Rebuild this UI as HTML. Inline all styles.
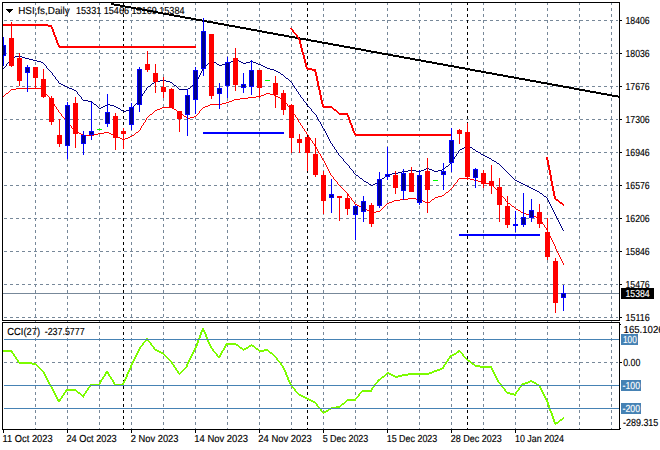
<!DOCTYPE html>
<html><head><meta charset="utf-8"><title>HSI,fs,Daily</title>
<style>html,body{margin:0;padding:0;background:#fff;}body{width:660px;height:450px;overflow:hidden;font-family:"Liberation Sans",sans-serif;}svg{display:block;}text{font-family:"Liberation Sans",sans-serif;font-size:10.2px;fill:#000;stroke:#000;stroke-width:0.15px;text-rendering:geometricPrecision;}</style>
</head><body>
<svg width="660" height="450" viewBox="0 0 660 450">
<rect width="660" height="450" fill="#fff"/>
<defs><clipPath id="cm"><rect x="3" y="3" width="616" height="317"/></clipPath><clipPath id="ci"><rect x="3" y="323" width="616" height="106"/></clipPath></defs>
<g shape-rendering="crispEdges">
<g stroke="#778899" stroke-width="1" stroke-dasharray="3 3" fill="none"><line x1="4" y1="20.5" x2="618" y2="20.5"/><line x1="4" y1="53.5" x2="618" y2="53.5"/><line x1="4" y1="86.5" x2="618" y2="86.5"/><line x1="4" y1="119.5" x2="618" y2="119.5"/><line x1="4" y1="152.5" x2="618" y2="152.5"/><line x1="4" y1="185.5" x2="618" y2="185.5"/><line x1="4" y1="218.5" x2="618" y2="218.5"/><line x1="4" y1="251.5" x2="618" y2="251.5"/><line x1="4" y1="284.5" x2="618" y2="284.5"/><line x1="4" y1="317.5" x2="618" y2="317.5"/><line x1="4" y1="362.5" x2="618" y2="362.5"/></g>
<g stroke="#778899" stroke-width="1" stroke-dasharray="3 3" fill="none" ><line x1="35.5" y1="2" x2="35.5" y2="429"/><line x1="67.5" y1="2" x2="67.5" y2="429"/><line x1="99.5" y1="2" x2="99.5" y2="429"/><line x1="131.5" y1="2" x2="131.5" y2="429"/><line x1="163.5" y1="2" x2="163.5" y2="429"/><line x1="195.5" y1="2" x2="195.5" y2="429"/><line x1="227.5" y1="2" x2="227.5" y2="429"/><line x1="259.5" y1="2" x2="259.5" y2="429"/><line x1="291.5" y1="2" x2="291.5" y2="429"/><line x1="323.5" y1="2" x2="323.5" y2="429"/><line x1="355.5" y1="2" x2="355.5" y2="429"/><line x1="387.5" y1="2" x2="387.5" y2="429"/><line x1="419.5" y1="2" x2="419.5" y2="429"/><line x1="451.5" y1="2" x2="451.5" y2="429"/><line x1="483.5" y1="2" x2="483.5" y2="429"/><line x1="515.5" y1="2" x2="515.5" y2="429"/><line x1="547.5" y1="2" x2="547.5" y2="429"/><line x1="579.5" y1="2" x2="579.5" y2="429"/><line x1="611.5" y1="2" x2="611.5" y2="429"/></g>
<g stroke="#000" stroke-width="1" stroke-dasharray="3 3" fill="none"><line x1="123.5" y1="2" x2="123.5" y2="429"/><line x1="307.5" y1="2" x2="307.5" y2="429"/><line x1="467.5" y1="2" x2="467.5" y2="429"/></g>
<rect x="3" y="293" width="616" height="1" fill="#778899"/>
</g>
<g clip-path="url(#cm)" shape-rendering="crispEdges">
<path d="M111 3h3v1h-3zM111 4h9v1h-9zM114 5h11v1h-11zM120 6h11v1h-11zM125 7h11v1h-11zM131 8h11v1h-11zM136 9h11v1h-11zM142 10h11v1h-11zM147 11h11v1h-11zM153 12h10v1h-10zM158 13h11v1h-11zM163 14h11v1h-11zM169 15h11v1h-11zM174 16h11v1h-11zM180 17h11v1h-11zM185 18h11v1h-11zM191 19h11v1h-11zM196 20h11v1h-11zM202 21h11v1h-11zM207 22h11v1h-11zM213 23h11v1h-11zM218 24h11v1h-11zM224 25h11v1h-11zM229 26h11v1h-11zM235 27h11v1h-11zM240 28h11v1h-11zM246 29h11v1h-11zM251 30h11v1h-11zM257 31h10v1h-10zM262 32h11v1h-11zM267 33h11v1h-11zM273 34h11v1h-11zM278 35h11v1h-11zM284 36h11v1h-11zM289 37h11v1h-11zM295 38h11v1h-11zM300 39h11v1h-11zM306 40h11v1h-11zM311 41h11v1h-11zM317 42h11v1h-11zM322 43h11v1h-11zM328 44h11v1h-11zM333 45h11v1h-11zM339 46h11v1h-11zM344 47h11v1h-11zM350 48h11v1h-11zM355 49h11v1h-11zM361 50h10v1h-10zM366 51h11v1h-11zM371 52h11v1h-11zM377 53h11v1h-11zM382 54h11v1h-11zM388 55h11v1h-11zM393 56h11v1h-11zM399 57h11v1h-11zM404 58h11v1h-11zM410 59h11v1h-11zM415 60h11v1h-11zM421 61h11v1h-11zM426 62h11v1h-11zM432 63h11v1h-11zM437 64h11v1h-11zM443 65h11v1h-11zM448 66h11v1h-11zM454 67h11v1h-11zM459 68h11v1h-11zM465 69h10v1h-10zM470 70h11v1h-11zM475 71h11v1h-11zM481 72h11v1h-11zM486 73h11v1h-11zM492 74h11v1h-11zM497 75h11v1h-11zM503 76h11v1h-11zM508 77h11v1h-11zM514 78h11v1h-11zM519 79h11v1h-11zM525 80h11v1h-11zM530 81h11v1h-11zM536 82h11v1h-11zM541 83h11v1h-11zM547 84h11v1h-11zM552 85h11v1h-11zM558 86h11v1h-11zM563 87h11v1h-11zM569 88h10v1h-10zM574 89h11v1h-11zM579 90h11v1h-11zM585 91h11v1h-11zM590 92h11v1h-11zM596 93h11v1h-11zM601 94h11v1h-11zM607 95h11v1h-11zM612 96h7v1h-7zM618 97h1v1h-1z" fill="#000"/>
<path d="M3 24h45v1h-45zM3 25h49v1h-49zM48 26h4v1h-4zM51 27h2v1h-2zM51 28h2v1h-2zM52 29h2v1h-2zM52 30h2v1h-2zM52 31h2v1h-2zM53 32h2v1h-2zM53 33h2v1h-2zM53 34h2v1h-2zM54 35h2v1h-2zM54 36h2v1h-2zM55 37h2v1h-2zM55 38h2v1h-2zM55 39h2v1h-2zM56 40h2v1h-2zM56 41h2v1h-2zM56 42h2v1h-2zM57 43h2v1h-2zM57 44h2v1h-2zM58 45h2v1h-2zM58 46h138v1h-138zM59 47h137v1h-137z" fill="#FF0000"/>
<path d="M290 28h2v1h-2zM291 29h2v1h-2zM292 30h2v1h-2zM292 31h2v1h-2zM293 32h2v1h-2zM294 33h2v1h-2zM295 34h2v1h-2zM296 35h2v1h-2zM296 36h2v1h-2zM297 37h2v1h-2zM298 38h2v1h-2zM298 39h2v1h-2zM299 40h2v1h-2zM299 41h2v1h-2zM299 42h2v1h-2zM299 43h2v1h-2zM300 44h2v1h-2zM300 45h2v1h-2zM300 46h2v1h-2zM300 47h2v1h-2zM301 48h2v1h-2zM301 49h2v1h-2zM301 50h2v1h-2zM301 51h2v1h-2zM302 52h2v1h-2zM302 53h2v1h-2zM302 54h2v1h-2zM303 55h2v1h-2zM303 56h2v1h-2zM303 57h2v1h-2zM303 58h2v1h-2zM304 59h2v1h-2zM304 60h2v1h-2zM304 61h2v1h-2zM304 62h2v1h-2zM305 63h2v1h-2zM305 64h2v1h-2zM305 65h2v1h-2zM305 66h2v1h-2zM306 67h2v1h-2zM306 68h6v1h-6zM307 69h9v1h-9zM312 70h4v1h-4zM314 71h2v1h-2zM315 72h2v1h-2zM315 73h2v1h-2zM315 74h2v1h-2zM315 75h2v1h-2zM316 76h2v1h-2zM316 77h2v1h-2zM316 78h2v1h-2zM316 79h2v1h-2zM316 80h2v1h-2zM317 81h2v1h-2zM317 82h2v1h-2zM317 83h2v1h-2zM317 84h2v1h-2zM317 85h2v1h-2zM318 86h2v1h-2zM318 87h2v1h-2zM318 88h2v1h-2zM318 89h2v1h-2zM319 90h2v1h-2zM319 91h2v1h-2zM319 92h2v1h-2zM319 93h2v1h-2zM319 94h2v1h-2zM320 95h2v1h-2zM320 96h2v1h-2zM320 97h2v1h-2zM320 98h2v1h-2zM320 99h2v1h-2zM321 100h2v1h-2zM321 101h2v1h-2zM321 102h2v1h-2zM321 103h2v1h-2zM322 104h2v1h-2zM322 105h2v1h-2zM322 106h10v1h-10zM323 107h10v1h-10zM332 108h2v1h-2zM333 109h3v1h-3zM334 110h3v1h-3zM336 111h2v1h-2zM337 112h2v1h-2zM338 113h10v1h-10zM339 114h9v1h-9zM347 115h2v1h-2zM347 116h2v1h-2zM348 117h2v1h-2zM348 118h2v1h-2zM348 119h2v1h-2zM349 120h2v1h-2zM349 121h2v1h-2zM349 122h2v1h-2zM350 123h2v1h-2zM350 124h2v1h-2zM351 125h2v1h-2zM351 126h2v1h-2zM351 127h2v1h-2zM352 128h2v1h-2zM352 129h2v1h-2zM352 130h2v1h-2zM353 131h2v1h-2zM353 132h2v1h-2zM354 133h2v1h-2zM354 134h98v1h-98zM355 135h97v1h-97z" fill="#FF0000"/>
<path d="M546 157h2v1h-2zM546 158h2v1h-2zM546 159h2v1h-2zM547 160h2v1h-2zM547 161h2v1h-2zM547 162h2v1h-2zM547 163h2v1h-2zM547 164h2v1h-2zM548 165h2v1h-2zM548 166h2v1h-2zM548 167h2v1h-2zM548 168h2v1h-2zM548 169h2v1h-2zM549 170h2v1h-2zM549 171h2v1h-2zM549 172h2v1h-2zM549 173h2v1h-2zM549 174h2v1h-2zM550 175h2v1h-2zM550 176h2v1h-2zM550 177h2v1h-2zM550 178h2v1h-2zM550 179h2v1h-2zM550 180h2v1h-2zM551 181h2v1h-2zM551 182h2v1h-2zM551 183h2v1h-2zM551 184h2v1h-2zM551 185h2v1h-2zM552 186h2v1h-2zM552 187h2v1h-2zM552 188h2v1h-2zM552 189h2v1h-2zM552 190h2v1h-2zM553 191h2v1h-2zM553 192h2v1h-2zM553 193h2v1h-2zM553 194h2v1h-2zM553 195h2v1h-2zM554 196h2v1h-2zM554 197h2v1h-2zM554 198h2v1h-2zM555 199h3v1h-3zM556 200h3v1h-3zM558 201h2v1h-2zM559 202h3v1h-3zM560 203h3v1h-3zM562 204h2v1h-2zM563 205h1v1h-1z" fill="#FF0000"/>
<rect x="203" y="132" width="81" height="2" fill="#0000FF"/>
<rect x="459" y="234" width="81" height="2" fill="#0000FF"/>
<path d="M16 88h25v1h-25zM11 89h5v1h-5zM41 89h2v1h-2zM10 90h1v1h-1zM43 90h1v1h-1zM9 91h1v1h-1zM44 91h1v1h-1zM8 92h1v1h-1zM45 92h1v1h-1zM6 93h2v1h-2zM45 93h1v1h-1zM266 93h4v1h-4zM5 94h1v1h-1zM46 94h1v1h-1zM264 94h2v1h-2zM270 94h4v1h-4zM4 95h1v1h-1zM47 95h1v1h-1zM261 95h3v1h-3zM274 95h2v1h-2zM3 96h1v1h-1zM48 96h1v1h-1zM256 96h5v1h-5zM276 96h2v1h-2zM49 97h1v1h-1zM248 97h8v1h-8zM278 97h2v1h-2zM49 98h1v1h-1zM240 98h8v1h-8zM280 98h1v1h-1zM50 99h1v1h-1zM234 99h6v1h-6zM281 99h2v1h-2zM51 100h1v1h-1zM232 100h2v1h-2zM283 100h1v1h-1zM52 101h1v1h-1zM229 101h3v1h-3zM284 101h1v1h-1zM52 102h1v1h-1zM226 102h3v1h-3zM285 102h1v1h-1zM53 103h1v1h-1zM222 103h4v1h-4zM286 103h1v1h-1zM54 104h1v1h-1zM210 104h12v1h-12zM287 104h1v1h-1zM54 105h1v1h-1zM208 105h2v1h-2zM287 105h1v1h-1zM55 106h1v1h-1zM205 106h3v1h-3zM288 106h1v1h-1zM56 107h1v1h-1zM162 107h10v1h-10zM203 107h2v1h-2zM289 107h1v1h-1zM56 108h1v1h-1zM160 108h2v1h-2zM172 108h2v1h-2zM202 108h1v1h-1zM290 108h1v1h-1zM57 109h1v1h-1zM157 109h3v1h-3zM174 109h2v1h-2zM201 109h1v1h-1zM291 109h1v1h-1zM58 110h1v1h-1zM155 110h2v1h-2zM176 110h1v1h-1zM200 110h1v1h-1zM292 110h1v1h-1zM58 111h1v1h-1zM154 111h1v1h-1zM177 111h2v1h-2zM199 111h1v1h-1zM292 111h1v1h-1zM59 112h1v1h-1zM153 112h1v1h-1zM179 112h1v1h-1zM199 112h1v1h-1zM293 112h1v1h-1zM60 113h1v1h-1zM152 113h1v1h-1zM180 113h2v1h-2zM198 113h1v1h-1zM293 113h1v1h-1zM61 114h1v1h-1zM150 114h2v1h-2zM182 114h1v1h-1zM197 114h1v1h-1zM294 114h1v1h-1zM61 115h1v1h-1zM149 115h1v1h-1zM183 115h1v1h-1zM196 115h1v1h-1zM295 115h1v1h-1zM62 116h1v1h-1zM148 116h1v1h-1zM184 116h2v1h-2zM194 116h2v1h-2zM295 116h1v1h-1zM63 117h1v1h-1zM147 117h1v1h-1zM186 117h1v1h-1zM190 117h4v1h-4zM296 117h1v1h-1zM64 118h1v1h-1zM146 118h1v1h-1zM187 118h3v1h-3zM297 118h1v1h-1zM65 119h1v1h-1zM146 119h1v1h-1zM297 119h1v1h-1zM65 120h1v1h-1zM145 120h1v1h-1zM298 120h1v1h-1zM66 121h1v1h-1zM145 121h1v1h-1zM298 121h1v1h-1zM67 122h1v1h-1zM144 122h1v1h-1zM299 122h1v1h-1zM68 123h1v1h-1zM143 123h1v1h-1zM300 123h1v1h-1zM69 124h1v1h-1zM143 124h1v1h-1zM300 124h1v1h-1zM70 125h1v1h-1zM142 125h1v1h-1zM301 125h1v1h-1zM71 126h1v1h-1zM141 126h1v1h-1zM302 126h1v1h-1zM71 127h1v1h-1zM141 127h1v1h-1zM302 127h1v1h-1zM72 128h1v1h-1zM140 128h1v1h-1zM303 128h1v1h-1zM73 129h1v1h-1zM140 129h1v1h-1zM304 129h1v1h-1zM74 130h1v1h-1zM139 130h1v1h-1zM304 130h1v1h-1zM75 131h2v1h-2zM138 131h1v1h-1zM305 131h1v1h-1zM77 132h2v1h-2zM104 132h5v1h-5zM136 132h2v1h-2zM306 132h1v1h-1zM79 133h2v1h-2zM98 133h6v1h-6zM109 133h2v1h-2zM135 133h1v1h-1zM306 133h1v1h-1zM81 134h2v1h-2zM94 134h4v1h-4zM111 134h2v1h-2zM134 134h1v1h-1zM307 134h1v1h-1zM83 135h11v1h-11zM113 135h2v1h-2zM132 135h2v1h-2zM308 135h1v1h-1zM115 136h2v1h-2zM130 136h2v1h-2zM308 136h1v1h-1zM117 137h3v1h-3zM128 137h2v1h-2zM309 137h1v1h-1zM120 138h2v1h-2zM125 138h3v1h-3zM310 138h1v1h-1zM122 139h3v1h-3zM310 139h1v1h-1zM311 140h1v1h-1zM312 141h1v1h-1zM312 142h1v1h-1zM313 143h1v1h-1zM314 144h1v1h-1zM314 145h1v1h-1zM315 146h1v1h-1zM316 147h1v1h-1zM316 148h1v1h-1zM317 149h1v1h-1zM317 150h1v1h-1zM318 151h1v1h-1zM318 152h1v1h-1zM319 153h1v1h-1zM320 154h1v1h-1zM320 155h1v1h-1zM321 156h1v1h-1zM321 157h1v1h-1zM322 158h1v1h-1zM322 159h1v1h-1zM323 160h1v1h-1zM324 161h1v1h-1zM324 162h1v1h-1zM325 163h1v1h-1zM325 164h1v1h-1zM326 165h1v1h-1zM326 166h1v1h-1zM327 167h1v1h-1zM327 168h1v1h-1zM328 169h1v1h-1zM328 170h1v1h-1zM329 171h1v1h-1zM329 172h1v1h-1zM330 173h1v1h-1zM330 174h1v1h-1zM331 175h1v1h-1zM332 176h1v1h-1zM333 177h1v1h-1zM333 178h1v1h-1zM459 178h11v1h-11zM334 179h1v1h-1zM458 179h1v1h-1zM470 179h4v1h-4zM335 180h1v1h-1zM457 180h1v1h-1zM474 180h4v1h-4zM336 181h1v1h-1zM457 181h1v1h-1zM478 181h4v1h-4zM337 182h1v1h-1zM456 182h1v1h-1zM482 182h4v1h-4zM337 183h1v1h-1zM455 183h1v1h-1zM486 183h4v1h-4zM338 184h1v1h-1zM454 184h1v1h-1zM490 184h2v1h-2zM339 185h1v1h-1zM453 185h1v1h-1zM492 185h1v1h-1zM340 186h1v1h-1zM453 186h1v1h-1zM493 186h1v1h-1zM341 187h1v1h-1zM452 187h1v1h-1zM494 187h1v1h-1zM342 188h1v1h-1zM451 188h1v1h-1zM495 188h1v1h-1zM343 189h1v1h-1zM450 189h1v1h-1zM496 189h1v1h-1zM344 190h1v1h-1zM449 190h1v1h-1zM497 190h1v1h-1zM345 191h1v1h-1zM448 191h1v1h-1zM498 191h1v1h-1zM346 192h1v1h-1zM446 192h2v1h-2zM499 192h1v1h-1zM347 193h1v1h-1zM445 193h1v1h-1zM500 193h1v1h-1zM348 194h1v1h-1zM444 194h1v1h-1zM501 194h1v1h-1zM348 195h1v1h-1zM442 195h2v1h-2zM501 195h1v1h-1zM349 196h1v1h-1zM438 196h4v1h-4zM502 196h1v1h-1zM350 197h1v1h-1zM435 197h3v1h-3zM503 197h1v1h-1zM351 198h1v1h-1zM408 198h8v1h-8zM434 198h1v1h-1zM504 198h1v1h-1zM351 199h1v1h-1zM400 199h8v1h-8zM416 199h5v1h-5zM432 199h2v1h-2zM505 199h1v1h-1zM352 200h1v1h-1zM394 200h6v1h-6zM421 200h2v1h-2zM431 200h1v1h-1zM505 200h1v1h-1zM353 201h1v1h-1zM392 201h2v1h-2zM423 201h2v1h-2zM430 201h1v1h-1zM506 201h1v1h-1zM354 202h1v1h-1zM389 202h3v1h-3zM425 202h2v1h-2zM428 202h2v1h-2zM507 202h1v1h-1zM354 203h1v1h-1zM387 203h2v1h-2zM427 203h1v1h-1zM508 203h2v1h-2zM355 204h2v1h-2zM386 204h1v1h-1zM510 204h1v1h-1zM357 205h2v1h-2zM385 205h1v1h-1zM511 205h1v1h-1zM359 206h2v1h-2zM384 206h1v1h-1zM512 206h2v1h-2zM361 207h2v1h-2zM383 207h1v1h-1zM514 207h1v1h-1zM363 208h2v1h-2zM382 208h1v1h-1zM515 208h1v1h-1zM365 209h2v1h-2zM381 209h1v1h-1zM516 209h2v1h-2zM367 210h2v1h-2zM380 210h1v1h-1zM518 210h2v1h-2zM369 211h2v1h-2zM376 211h4v1h-4zM520 211h1v1h-1zM371 212h5v1h-5zM521 212h2v1h-2zM523 213h3v1h-3zM526 214h4v1h-4zM530 215h3v1h-3zM533 216h3v1h-3zM536 217h2v1h-2zM538 218h2v1h-2zM540 219h1v1h-1zM540 220h1v1h-1zM541 221h1v1h-1zM542 222h1v1h-1zM542 223h1v1h-1zM543 224h1v1h-1zM544 225h1v1h-1zM544 226h1v1h-1zM545 227h1v1h-1zM546 228h1v1h-1zM546 229h1v1h-1zM547 230h1v1h-1zM547 231h1v1h-1zM548 232h1v1h-1zM548 233h1v1h-1zM549 234h1v1h-1zM549 235h1v1h-1zM550 236h1v1h-1zM550 237h1v1h-1zM551 238h1v1h-1zM551 239h1v1h-1zM552 240h1v1h-1zM552 241h1v1h-1zM553 242h1v1h-1zM553 243h1v1h-1zM554 244h1v1h-1zM554 245h1v1h-1zM555 246h1v1h-1zM555 247h1v1h-1zM555 248h1v1h-1zM556 249h1v1h-1zM556 250h1v1h-1zM557 251h1v1h-1zM557 252h1v1h-1zM558 253h1v1h-1zM558 254h1v1h-1zM559 255h1v1h-1zM559 256h1v1h-1zM560 257h1v1h-1zM560 258h1v1h-1zM561 259h1v1h-1zM561 260h1v1h-1zM562 261h1v1h-1zM562 262h1v1h-1zM563 263h1v1h-1zM563 264h1v1h-1z" fill="#FF0000"/>
<path d="M15 56h7v1h-7zM14 57h1v1h-1zM22 57h3v1h-3zM13 58h1v1h-1zM25 58h4v1h-4zM11 59h2v1h-2zM29 59h4v1h-4zM235 59h2v1h-2zM10 60h1v1h-1zM33 60h4v1h-4zM211 60h1v1h-1zM233 60h2v1h-2zM237 60h2v1h-2zM9 61h1v1h-1zM37 61h4v1h-4zM210 61h1v1h-1zM212 61h2v1h-2zM231 61h2v1h-2zM239 61h2v1h-2zM250 61h3v1h-3zM8 62h1v1h-1zM41 62h2v1h-2zM209 62h1v1h-1zM214 62h2v1h-2zM229 62h2v1h-2zM241 62h2v1h-2zM246 62h4v1h-4zM253 62h3v1h-3zM7 63h1v1h-1zM43 63h1v1h-1zM208 63h1v1h-1zM216 63h1v1h-1zM226 63h3v1h-3zM243 63h3v1h-3zM256 63h2v1h-2zM6 64h1v1h-1zM44 64h1v1h-1zM207 64h1v1h-1zM217 64h2v1h-2zM222 64h4v1h-4zM258 64h3v1h-3zM6 65h1v1h-1zM45 65h1v1h-1zM206 65h1v1h-1zM219 65h3v1h-3zM261 65h2v1h-2zM5 66h1v1h-1zM46 66h1v1h-1zM205 66h1v1h-1zM263 66h2v1h-2zM4 67h1v1h-1zM46 67h1v1h-1zM204 67h1v1h-1zM265 67h2v1h-2zM3 68h1v1h-1zM47 68h1v1h-1zM203 68h1v1h-1zM267 68h3v1h-3zM48 69h1v1h-1zM202 69h1v1h-1zM270 69h4v1h-4zM49 70h1v1h-1zM202 70h1v1h-1zM274 70h2v1h-2zM50 71h1v1h-1zM201 71h1v1h-1zM276 71h2v1h-2zM51 72h1v1h-1zM201 72h1v1h-1zM278 72h2v1h-2zM52 73h1v1h-1zM200 73h1v1h-1zM280 73h1v1h-1zM52 74h1v1h-1zM200 74h1v1h-1zM281 74h2v1h-2zM53 75h1v1h-1zM199 75h1v1h-1zM283 75h1v1h-1zM54 76h1v1h-1zM199 76h1v1h-1zM284 76h1v1h-1zM55 77h1v1h-1zM198 77h1v1h-1zM285 77h1v1h-1zM55 78h1v1h-1zM198 78h1v1h-1zM286 78h2v1h-2zM56 79h1v1h-1zM197 79h1v1h-1zM288 79h1v1h-1zM57 80h1v1h-1zM160 80h6v1h-6zM197 80h1v1h-1zM289 80h1v1h-1zM58 81h1v1h-1zM155 81h5v1h-5zM166 81h4v1h-4zM196 81h1v1h-1zM290 81h1v1h-1zM58 82h1v1h-1zM154 82h1v1h-1zM170 82h2v1h-2zM196 82h1v1h-1zM291 82h1v1h-1zM59 83h2v1h-2zM152 83h2v1h-2zM172 83h1v1h-1zM195 83h1v1h-1zM292 83h1v1h-1zM61 84h2v1h-2zM151 84h1v1h-1zM173 84h1v1h-1zM194 84h1v1h-1zM292 84h1v1h-1zM63 85h2v1h-2zM150 85h1v1h-1zM174 85h2v1h-2zM192 85h2v1h-2zM293 85h1v1h-1zM65 86h2v1h-2zM148 86h2v1h-2zM176 86h1v1h-1zM191 86h1v1h-1zM294 86h1v1h-1zM67 87h2v1h-2zM147 87h1v1h-1zM177 87h1v1h-1zM190 87h1v1h-1zM294 87h1v1h-1zM69 88h3v1h-3zM146 88h1v1h-1zM178 88h1v1h-1zM188 88h2v1h-2zM295 88h1v1h-1zM72 89h2v1h-2zM146 89h1v1h-1zM179 89h9v1h-9zM296 89h1v1h-1zM74 90h2v1h-2zM145 90h1v1h-1zM296 90h1v1h-1zM76 91h1v1h-1zM144 91h1v1h-1zM297 91h1v1h-1zM77 92h1v1h-1zM144 92h1v1h-1zM298 92h1v1h-1zM77 93h1v1h-1zM143 93h1v1h-1zM298 93h1v1h-1zM78 94h1v1h-1zM142 94h1v1h-1zM299 94h1v1h-1zM79 95h1v1h-1zM142 95h1v1h-1zM300 95h1v1h-1zM80 96h1v1h-1zM141 96h1v1h-1zM300 96h1v1h-1zM81 97h1v1h-1zM140 97h1v1h-1zM301 97h1v1h-1zM81 98h1v1h-1zM140 98h1v1h-1zM302 98h1v1h-1zM82 99h1v1h-1zM139 99h1v1h-1zM303 99h1v1h-1zM83 100h5v1h-5zM138 100h1v1h-1zM303 100h1v1h-1zM88 101h4v1h-4zM137 101h1v1h-1zM304 101h1v1h-1zM92 102h1v1h-1zM137 102h1v1h-1zM305 102h1v1h-1zM93 103h1v1h-1zM136 103h1v1h-1zM306 103h1v1h-1zM94 104h2v1h-2zM107 104h3v1h-3zM135 104h1v1h-1zM306 104h1v1h-1zM96 105h1v1h-1zM105 105h2v1h-2zM110 105h4v1h-4zM134 105h1v1h-1zM307 105h1v1h-1zM97 106h1v1h-1zM103 106h2v1h-2zM114 106h2v1h-2zM133 106h1v1h-1zM308 106h1v1h-1zM98 107h1v1h-1zM101 107h2v1h-2zM116 107h2v1h-2zM133 107h1v1h-1zM309 107h1v1h-1zM99 108h2v1h-2zM118 108h2v1h-2zM132 108h1v1h-1zM310 108h1v1h-1zM120 109h1v1h-1zM130 109h2v1h-2zM311 109h1v1h-1zM121 110h2v1h-2zM126 110h4v1h-4zM311 110h1v1h-1zM123 111h3v1h-3zM312 111h1v1h-1zM313 112h1v1h-1zM314 113h1v1h-1zM315 114h1v1h-1zM316 115h1v1h-1zM316 116h1v1h-1zM317 117h1v1h-1zM317 118h1v1h-1zM318 119h1v1h-1zM318 120h1v1h-1zM319 121h1v1h-1zM320 122h1v1h-1zM320 123h1v1h-1zM321 124h1v1h-1zM321 125h1v1h-1zM322 126h1v1h-1zM322 127h1v1h-1zM323 128h1v1h-1zM324 129h1v1h-1zM324 130h1v1h-1zM325 131h1v1h-1zM325 132h1v1h-1zM326 133h1v1h-1zM326 134h1v1h-1zM327 135h1v1h-1zM327 136h1v1h-1zM328 137h1v1h-1zM328 138h1v1h-1zM329 139h1v1h-1zM329 140h1v1h-1zM330 141h1v1h-1zM330 142h1v1h-1zM331 143h1v1h-1zM332 144h1v1h-1zM332 145h1v1h-1zM467 145h1v1h-1zM333 146h1v1h-1zM465 146h2v1h-2zM468 146h2v1h-2zM334 147h1v1h-1zM464 147h1v1h-1zM470 147h2v1h-2zM334 148h1v1h-1zM462 148h2v1h-2zM472 148h1v1h-1zM335 149h1v1h-1zM460 149h2v1h-2zM473 149h2v1h-2zM336 150h1v1h-1zM459 150h1v1h-1zM475 150h1v1h-1zM336 151h1v1h-1zM458 151h1v1h-1zM476 151h2v1h-2zM337 152h1v1h-1zM458 152h1v1h-1zM478 152h2v1h-2zM338 153h1v1h-1zM457 153h1v1h-1zM480 153h1v1h-1zM338 154h1v1h-1zM456 154h1v1h-1zM481 154h2v1h-2zM339 155h1v1h-1zM456 155h1v1h-1zM483 155h2v1h-2zM340 156h1v1h-1zM455 156h1v1h-1zM485 156h2v1h-2zM341 157h1v1h-1zM454 157h1v1h-1zM487 157h2v1h-2zM342 158h1v1h-1zM454 158h1v1h-1zM489 158h2v1h-2zM343 159h1v1h-1zM453 159h1v1h-1zM491 159h1v1h-1zM343 160h1v1h-1zM452 160h1v1h-1zM492 160h2v1h-2zM344 161h1v1h-1zM452 161h1v1h-1zM494 161h2v1h-2zM345 162h1v1h-1zM451 162h1v1h-1zM496 162h1v1h-1zM346 163h1v1h-1zM450 163h1v1h-1zM497 163h2v1h-2zM347 164h1v1h-1zM449 164h1v1h-1zM499 164h1v1h-1zM348 165h1v1h-1zM448 165h1v1h-1zM500 165h1v1h-1zM349 166h1v1h-1zM446 166h2v1h-2zM501 166h1v1h-1zM349 167h1v1h-1zM445 167h1v1h-1zM502 167h1v1h-1zM350 168h1v1h-1zM426 168h3v1h-3zM444 168h1v1h-1zM503 168h1v1h-1zM351 169h1v1h-1zM424 169h2v1h-2zM429 169h3v1h-3zM442 169h2v1h-2zM504 169h1v1h-1zM352 170h1v1h-1zM408 170h8v1h-8zM421 170h3v1h-3zM432 170h2v1h-2zM438 170h4v1h-4zM505 170h1v1h-1zM353 171h1v1h-1zM402 171h6v1h-6zM416 171h5v1h-5zM434 171h4v1h-4zM506 171h1v1h-1zM353 172h1v1h-1zM398 172h4v1h-4zM507 172h1v1h-1zM354 173h1v1h-1zM392 173h6v1h-6zM508 173h1v1h-1zM355 174h1v1h-1zM387 174h5v1h-5zM509 174h1v1h-1zM356 175h2v1h-2zM386 175h1v1h-1zM510 175h1v1h-1zM358 176h1v1h-1zM385 176h1v1h-1zM511 176h1v1h-1zM359 177h1v1h-1zM384 177h1v1h-1zM512 177h1v1h-1zM360 178h2v1h-2zM382 178h2v1h-2zM513 178h1v1h-1zM362 179h1v1h-1zM381 179h1v1h-1zM514 179h1v1h-1zM363 180h1v1h-1zM380 180h1v1h-1zM515 180h2v1h-2zM364 181h2v1h-2zM379 181h1v1h-1zM517 181h2v1h-2zM366 182h2v1h-2zM377 182h2v1h-2zM519 182h2v1h-2zM368 183h1v1h-1zM375 183h2v1h-2zM521 183h2v1h-2zM369 184h2v1h-2zM373 184h2v1h-2zM523 184h2v1h-2zM371 185h2v1h-2zM525 185h2v1h-2zM527 186h2v1h-2zM529 187h2v1h-2zM531 188h2v1h-2zM533 189h2v1h-2zM535 190h2v1h-2zM537 191h2v1h-2zM539 192h1v1h-1zM540 193h2v1h-2zM542 194h1v1h-1zM543 195h1v1h-1zM544 196h2v1h-2zM546 197h1v1h-1zM547 198h1v1h-1zM547 199h1v1h-1zM548 200h1v1h-1zM548 201h1v1h-1zM549 202h1v1h-1zM549 203h1v1h-1zM550 204h1v1h-1zM550 205h1v1h-1zM551 206h1v1h-1zM551 207h1v1h-1zM552 208h1v1h-1zM552 209h1v1h-1zM553 210h1v1h-1zM553 211h1v1h-1zM554 212h1v1h-1zM554 213h1v1h-1zM555 214h1v1h-1zM555 215h1v1h-1zM556 216h1v1h-1zM556 217h1v1h-1zM557 218h1v1h-1zM557 219h1v1h-1zM558 220h1v1h-1zM558 221h1v1h-1zM559 222h1v1h-1zM559 223h1v1h-1zM560 224h1v1h-1zM560 225h1v1h-1zM561 226h1v1h-1zM561 227h1v1h-1zM562 228h1v1h-1zM562 229h1v1h-1zM563 230h1v1h-1z" fill="#000080"/>
<rect x="3" y="37" width="1" height="29" fill="#0000FF"/>
<rect x="1" y="45" width="5" height="11" fill="#0000FF"/>
<rect x="2" y="46" width="3" height="9" fill="#00008B"/>
<rect x="11" y="22" width="1" height="45" fill="#FF0000"/>
<rect x="9" y="38" width="5" height="28" fill="#FF0000"/>
<rect x="19" y="53" width="1" height="33" fill="#FF0000"/>
<rect x="17" y="58" width="5" height="23" fill="#FF0000"/>
<rect x="27" y="65" width="1" height="27" fill="#0000FF"/>
<rect x="25" y="67" width="5" height="6" fill="#0000FF"/>
<rect x="26" y="68" width="3" height="4" fill="#00008B"/>
<rect x="35" y="67" width="1" height="21" fill="#FF0000"/>
<rect x="33" y="67" width="5" height="11" fill="#FF0000"/>
<rect x="43" y="69" width="1" height="29" fill="#FF0000"/>
<rect x="41" y="79" width="5" height="18" fill="#FF0000"/>
<rect x="51" y="96" width="1" height="29" fill="#FF0000"/>
<rect x="49" y="98" width="5" height="24" fill="#FF0000"/>
<rect x="59" y="119" width="1" height="28" fill="#FF0000"/>
<rect x="57" y="135" width="5" height="9" fill="#FF0000"/>
<rect x="67" y="102" width="1" height="57" fill="#0000FF"/>
<rect x="65" y="105" width="5" height="41" fill="#0000FF"/>
<rect x="66" y="106" width="3" height="39" fill="#00008B"/>
<rect x="75" y="97" width="1" height="51" fill="#FF0000"/>
<rect x="73" y="103" width="5" height="31" fill="#FF0000"/>
<rect x="83" y="131" width="1" height="24" fill="#0000FF"/>
<rect x="81" y="135" width="5" height="9" fill="#0000FF"/>
<rect x="82" y="136" width="3" height="7" fill="#00008B"/>
<rect x="91" y="102" width="1" height="38" fill="#0000FF"/>
<rect x="89" y="131" width="5" height="4" fill="#0000FF"/>
<rect x="90" y="132" width="3" height="2" fill="#00008B"/>
<rect x="97" y="129" width="5" height="1" fill="#00FF00"/>
<rect x="107" y="94" width="1" height="33" fill="#0000FF"/>
<rect x="105" y="112" width="5" height="12" fill="#0000FF"/>
<rect x="106" y="113" width="3" height="10" fill="#00008B"/>
<rect x="115" y="113" width="1" height="37" fill="#FF0000"/>
<rect x="113" y="116" width="5" height="22" fill="#FF0000"/>
<rect x="123" y="128" width="1" height="21" fill="#FF0000"/>
<rect x="121" y="131" width="5" height="3" fill="#FF0000"/>
<rect x="131" y="103" width="1" height="27" fill="#0000FF"/>
<rect x="129" y="107" width="5" height="18" fill="#0000FF"/>
<rect x="130" y="108" width="3" height="16" fill="#00008B"/>
<rect x="139" y="67" width="1" height="45" fill="#0000FF"/>
<rect x="137" y="69" width="5" height="36" fill="#0000FF"/>
<rect x="138" y="70" width="3" height="34" fill="#00008B"/>
<rect x="147" y="51" width="1" height="21" fill="#FF0000"/>
<rect x="145" y="64" width="5" height="6" fill="#FF0000"/>
<rect x="155" y="64" width="1" height="29" fill="#FF0000"/>
<rect x="153" y="73" width="5" height="9" fill="#FF0000"/>
<rect x="163" y="77" width="1" height="21" fill="#FF0000"/>
<rect x="161" y="87" width="5" height="5" fill="#FF0000"/>
<rect x="171" y="88" width="1" height="20" fill="#FF0000"/>
<rect x="169" y="89" width="5" height="19" fill="#FF0000"/>
<rect x="179" y="111" width="1" height="21" fill="#FF0000"/>
<rect x="177" y="111" width="5" height="8" fill="#FF0000"/>
<rect x="187" y="89" width="1" height="47" fill="#0000FF"/>
<rect x="185" y="95" width="5" height="20" fill="#0000FF"/>
<rect x="186" y="96" width="3" height="18" fill="#00008B"/>
<rect x="195" y="67" width="1" height="47" fill="#0000FF"/>
<rect x="193" y="70" width="5" height="30" fill="#0000FF"/>
<rect x="194" y="71" width="3" height="28" fill="#00008B"/>
<rect x="203" y="18" width="1" height="58" fill="#0000FF"/>
<rect x="201" y="31" width="5" height="38" fill="#0000FF"/>
<rect x="202" y="32" width="3" height="36" fill="#00008B"/>
<rect x="211" y="34" width="1" height="65" fill="#FF0000"/>
<rect x="209" y="34" width="5" height="62" fill="#FF0000"/>
<rect x="219" y="83" width="1" height="26" fill="#0000FF"/>
<rect x="217" y="88" width="5" height="6" fill="#0000FF"/>
<rect x="218" y="89" width="3" height="4" fill="#00008B"/>
<rect x="227" y="57" width="1" height="41" fill="#0000FF"/>
<rect x="225" y="62" width="5" height="24" fill="#0000FF"/>
<rect x="226" y="63" width="3" height="22" fill="#00008B"/>
<rect x="235" y="48" width="1" height="43" fill="#FF0000"/>
<rect x="233" y="58" width="5" height="27" fill="#FF0000"/>
<rect x="243" y="73" width="1" height="20" fill="#0000FF"/>
<rect x="241" y="84" width="5" height="4" fill="#0000FF"/>
<rect x="242" y="85" width="3" height="2" fill="#00008B"/>
<rect x="251" y="60" width="1" height="35" fill="#0000FF"/>
<rect x="249" y="70" width="5" height="17" fill="#0000FF"/>
<rect x="250" y="71" width="3" height="15" fill="#00008B"/>
<rect x="259" y="70" width="1" height="28" fill="#FF0000"/>
<rect x="257" y="70" width="5" height="18" fill="#FF0000"/>
<rect x="265" y="80" width="5" height="1" fill="#00FF00"/>
<rect x="275" y="76" width="1" height="32" fill="#FF0000"/>
<rect x="273" y="83" width="5" height="12" fill="#FF0000"/>
<rect x="283" y="90" width="1" height="25" fill="#FF0000"/>
<rect x="281" y="93" width="5" height="17" fill="#FF0000"/>
<rect x="291" y="104" width="1" height="49" fill="#FF0000"/>
<rect x="289" y="105" width="5" height="33" fill="#FF0000"/>
<rect x="299" y="134" width="1" height="19" fill="#FF0000"/>
<rect x="297" y="139" width="5" height="4" fill="#FF0000"/>
<rect x="307" y="137" width="1" height="34" fill="#FF0000"/>
<rect x="305" y="137" width="5" height="16" fill="#FF0000"/>
<rect x="315" y="138" width="1" height="39" fill="#FF0000"/>
<rect x="313" y="154" width="5" height="21" fill="#FF0000"/>
<rect x="323" y="171" width="1" height="43" fill="#FF0000"/>
<rect x="321" y="175" width="5" height="26" fill="#FF0000"/>
<rect x="331" y="179" width="1" height="34" fill="#0000FF"/>
<rect x="329" y="194" width="5" height="4" fill="#0000FF"/>
<rect x="330" y="195" width="3" height="2" fill="#00008B"/>
<rect x="339" y="196" width="1" height="25" fill="#FF0000"/>
<rect x="337" y="196" width="5" height="2" fill="#FF0000"/>
<rect x="347" y="193" width="1" height="22" fill="#FF0000"/>
<rect x="345" y="198" width="5" height="11" fill="#FF0000"/>
<rect x="355" y="205" width="1" height="35" fill="#0000FF"/>
<rect x="353" y="206" width="5" height="9" fill="#0000FF"/>
<rect x="354" y="207" width="3" height="7" fill="#00008B"/>
<rect x="363" y="196" width="1" height="26" fill="#0000FF"/>
<rect x="361" y="201" width="5" height="11" fill="#0000FF"/>
<rect x="362" y="202" width="3" height="9" fill="#00008B"/>
<rect x="371" y="203" width="1" height="24" fill="#FF0000"/>
<rect x="369" y="205" width="5" height="19" fill="#FF0000"/>
<rect x="379" y="172" width="1" height="36" fill="#0000FF"/>
<rect x="377" y="179" width="5" height="27" fill="#0000FF"/>
<rect x="378" y="180" width="3" height="25" fill="#00008B"/>
<rect x="387" y="147" width="1" height="33" fill="#0000FF"/>
<rect x="385" y="174" width="5" height="3" fill="#0000FF"/>
<rect x="386" y="175" width="3" height="1" fill="#00008B"/>
<rect x="395" y="171" width="1" height="23" fill="#FF0000"/>
<rect x="393" y="175" width="5" height="13" fill="#FF0000"/>
<rect x="403" y="169" width="1" height="31" fill="#0000FF"/>
<rect x="401" y="173" width="5" height="18" fill="#0000FF"/>
<rect x="402" y="174" width="3" height="16" fill="#00008B"/>
<rect x="411" y="167" width="1" height="25" fill="#FF0000"/>
<rect x="409" y="173" width="5" height="19" fill="#FF0000"/>
<rect x="419" y="170" width="1" height="35" fill="#0000FF"/>
<rect x="417" y="175" width="5" height="28" fill="#0000FF"/>
<rect x="418" y="176" width="3" height="26" fill="#00008B"/>
<rect x="427" y="158" width="1" height="55" fill="#FF0000"/>
<rect x="425" y="171" width="5" height="19" fill="#FF0000"/>
<rect x="433" y="180" width="5" height="1" fill="#00FF00"/>
<rect x="443" y="163" width="1" height="27" fill="#0000FF"/>
<rect x="441" y="171" width="5" height="4" fill="#0000FF"/>
<rect x="442" y="172" width="3" height="2" fill="#00008B"/>
<rect x="451" y="128" width="1" height="44" fill="#0000FF"/>
<rect x="449" y="140" width="5" height="23" fill="#0000FF"/>
<rect x="450" y="141" width="3" height="21" fill="#00008B"/>
<rect x="459" y="129" width="1" height="15" fill="#FF0000"/>
<rect x="457" y="130" width="5" height="4" fill="#FF0000"/>
<rect x="467" y="123" width="1" height="57" fill="#FF0000"/>
<rect x="465" y="132" width="5" height="45" fill="#FF0000"/>
<rect x="475" y="168" width="1" height="20" fill="#0000FF"/>
<rect x="473" y="169" width="5" height="9" fill="#0000FF"/>
<rect x="474" y="170" width="3" height="7" fill="#00008B"/>
<rect x="483" y="170" width="1" height="18" fill="#FF0000"/>
<rect x="481" y="173" width="5" height="11" fill="#FF0000"/>
<rect x="491" y="165" width="1" height="29" fill="#FF0000"/>
<rect x="489" y="181" width="5" height="5" fill="#FF0000"/>
<rect x="499" y="178" width="1" height="44" fill="#FF0000"/>
<rect x="497" y="187" width="5" height="18" fill="#FF0000"/>
<rect x="507" y="196" width="1" height="32" fill="#FF0000"/>
<rect x="505" y="206" width="5" height="19" fill="#FF0000"/>
<rect x="515" y="211" width="1" height="21" fill="#0000FF"/>
<rect x="513" y="224" width="5" height="2" fill="#0000FF"/>
<rect x="523" y="193" width="1" height="34" fill="#0000FF"/>
<rect x="521" y="217" width="5" height="8" fill="#0000FF"/>
<rect x="522" y="218" width="3" height="6" fill="#00008B"/>
<rect x="531" y="199" width="1" height="23" fill="#0000FF"/>
<rect x="529" y="210" width="5" height="8" fill="#0000FF"/>
<rect x="530" y="211" width="3" height="6" fill="#00008B"/>
<rect x="539" y="204" width="1" height="24" fill="#FF0000"/>
<rect x="537" y="212" width="5" height="12" fill="#FF0000"/>
<rect x="547" y="218" width="1" height="42" fill="#FF0000"/>
<rect x="545" y="232" width="5" height="25" fill="#FF0000"/>
<rect x="555" y="258" width="1" height="55" fill="#FF0000"/>
<rect x="553" y="261" width="5" height="42" fill="#FF0000"/>
<rect x="563" y="285" width="1" height="26" fill="#0000FF"/>
<rect x="561" y="293" width="5" height="5" fill="#0000FF"/>
<rect x="562" y="294" width="3" height="3" fill="#00008B"/>
</g>
<g clip-path="url(#ci)" shape-rendering="crispEdges">
<path d="M202 328h2v1h-2zM202 329h2v1h-2zM201 330h4v1h-4zM201 331h4v1h-4zM200 332h2v1h-2zM204 332h2v1h-2zM200 333h2v1h-2zM204 333h2v1h-2zM200 334h2v1h-2zM205 334h2v1h-2zM199 335h2v1h-2zM205 335h2v1h-2zM199 336h2v1h-2zM205 336h2v1h-2zM199 337h2v1h-2zM206 337h2v1h-2zM146 338h2v1h-2zM198 338h2v1h-2zM206 338h2v1h-2zM145 339h4v1h-4zM198 339h2v1h-2zM207 339h2v1h-2zM145 340h4v1h-4zM197 340h2v1h-2zM207 340h2v1h-2zM144 341h2v1h-2zM148 341h2v1h-2zM197 341h2v1h-2zM207 341h2v1h-2zM143 342h2v1h-2zM149 342h2v1h-2zM197 342h2v1h-2zM208 342h2v1h-2zM142 343h2v1h-2zM150 343h2v1h-2zM196 343h2v1h-2zM208 343h2v1h-2zM226 343h10v1h-10zM142 344h2v1h-2zM150 344h2v1h-2zM196 344h2v1h-2zM209 344h2v1h-2zM225 344h13v1h-13zM251 344h1v1h-1zM141 345h2v1h-2zM151 345h2v1h-2zM196 345h2v1h-2zM209 345h2v1h-2zM225 345h2v1h-2zM236 345h3v1h-3zM249 345h5v1h-5zM140 346h2v1h-2zM152 346h2v1h-2zM195 346h2v1h-2zM210 346h2v1h-2zM224 346h2v1h-2zM238 346h2v1h-2zM248 346h3v1h-3zM252 346h3v1h-3zM139 347h2v1h-2zM153 347h2v1h-2zM195 347h2v1h-2zM210 347h2v1h-2zM224 347h2v1h-2zM239 347h3v1h-3zM246 347h3v1h-3zM254 347h2v1h-2zM139 348h2v1h-2zM153 348h2v1h-2zM194 348h2v1h-2zM211 348h2v1h-2zM223 348h2v1h-2zM240 348h3v1h-3zM244 348h4v1h-4zM255 348h3v1h-3zM138 349h2v1h-2zM154 349h3v1h-3zM194 349h2v1h-2zM212 349h2v1h-2zM223 349h2v1h-2zM242 349h4v1h-4zM256 349h3v1h-3zM264 349h4v1h-4zM3 350h9v1h-9zM138 350h2v1h-2zM155 350h4v1h-4zM193 350h2v1h-2zM212 350h2v1h-2zM222 350h2v1h-2zM243 350h1v1h-1zM258 350h11v1h-11zM458 350h2v1h-2zM3 351h10v1h-10zM137 351h2v1h-2zM157 351h4v1h-4zM193 351h2v1h-2zM213 351h2v1h-2zM221 351h2v1h-2zM259 351h5v1h-5zM268 351h2v1h-2zM457 351h4v1h-4zM11 352h2v1h-2zM137 352h2v1h-2zM159 352h4v1h-4zM192 352h2v1h-2zM214 352h2v1h-2zM221 352h2v1h-2zM269 352h3v1h-3zM456 352h3v1h-3zM460 352h2v1h-2zM12 353h2v1h-2zM136 353h2v1h-2zM161 353h3v1h-3zM192 353h2v1h-2zM215 353h2v1h-2zM220 353h2v1h-2zM270 353h3v1h-3zM454 353h3v1h-3zM461 353h2v1h-2zM13 354h2v1h-2zM136 354h2v1h-2zM163 354h2v1h-2zM191 354h2v1h-2zM216 354h2v1h-2zM220 354h2v1h-2zM272 354h2v1h-2zM452 354h4v1h-4zM462 354h2v1h-2zM13 355h2v1h-2zM135 355h2v1h-2zM164 355h2v1h-2zM191 355h2v1h-2zM216 355h2v1h-2zM219 355h2v1h-2zM273 355h2v1h-2zM450 355h4v1h-4zM462 355h2v1h-2zM14 356h2v1h-2zM135 356h2v1h-2zM165 356h2v1h-2zM190 356h2v1h-2zM217 356h4v1h-4zM274 356h2v1h-2zM449 356h3v1h-3zM463 356h2v1h-2zM15 357h2v1h-2zM134 357h2v1h-2zM166 357h2v1h-2zM190 357h2v1h-2zM218 357h2v1h-2zM275 357h2v1h-2zM449 357h2v1h-2zM464 357h2v1h-2zM15 358h2v1h-2zM134 358h2v1h-2zM167 358h2v1h-2zM189 358h2v1h-2zM276 358h2v1h-2zM448 358h2v1h-2zM465 358h2v1h-2zM16 359h2v1h-2zM133 359h2v1h-2zM168 359h2v1h-2zM189 359h2v1h-2zM276 359h2v1h-2zM447 359h2v1h-2zM466 359h2v1h-2zM17 360h2v1h-2zM133 360h2v1h-2zM169 360h2v1h-2zM188 360h2v1h-2zM277 360h2v1h-2zM447 360h2v1h-2zM467 360h3v1h-3zM17 361h2v1h-2zM132 361h2v1h-2zM170 361h2v1h-2zM188 361h2v1h-2zM278 361h2v1h-2zM446 361h2v1h-2zM468 361h3v1h-3zM18 362h14v1h-14zM132 362h2v1h-2zM171 362h2v1h-2zM187 362h2v1h-2zM279 362h2v1h-2zM445 362h2v1h-2zM470 362h2v1h-2zM19 363h17v1h-17zM131 363h2v1h-2zM171 363h2v1h-2zM187 363h2v1h-2zM280 363h2v1h-2zM445 363h2v1h-2zM471 363h3v1h-3zM32 364h5v1h-5zM131 364h2v1h-2zM172 364h2v1h-2zM186 364h2v1h-2zM280 364h2v1h-2zM444 364h2v1h-2zM472 364h3v1h-3zM36 365h2v1h-2zM130 365h2v1h-2zM173 365h2v1h-2zM186 365h2v1h-2zM281 365h2v1h-2zM443 365h2v1h-2zM474 365h6v1h-6zM37 366h2v1h-2zM130 366h2v1h-2zM173 366h2v1h-2zM186 366h2v1h-2zM282 366h2v1h-2zM443 366h2v1h-2zM475 366h17v1h-17zM38 367h2v1h-2zM130 367h2v1h-2zM174 367h2v1h-2zM185 367h2v1h-2zM282 367h2v1h-2zM442 367h2v1h-2zM480 367h12v1h-12zM39 368h2v1h-2zM129 368h2v1h-2zM175 368h2v1h-2zM184 368h2v1h-2zM283 368h2v1h-2zM440 368h4v1h-4zM491 368h2v1h-2zM40 369h2v1h-2zM129 369h2v1h-2zM175 369h2v1h-2zM183 369h2v1h-2zM283 369h2v1h-2zM437 369h5v1h-5zM491 369h2v1h-2zM41 370h2v1h-2zM128 370h2v1h-2zM176 370h2v1h-2zM182 370h2v1h-2zM284 370h2v1h-2zM434 370h6v1h-6zM492 370h2v1h-2zM42 371h2v1h-2zM106 371h2v1h-2zM128 371h2v1h-2zM177 371h2v1h-2zM181 371h2v1h-2zM284 371h2v1h-2zM432 371h5v1h-5zM492 371h2v1h-2zM43 372h2v1h-2zM105 372h4v1h-4zM127 372h2v1h-2zM177 372h2v1h-2zM180 372h2v1h-2zM285 372h2v1h-2zM387 372h2v1h-2zM429 372h5v1h-5zM493 372h2v1h-2zM43 373h2v1h-2zM105 373h4v1h-4zM127 373h2v1h-2zM178 373h3v1h-3zM285 373h2v1h-2zM386 373h5v1h-5zM408 373h24v1h-24zM493 373h2v1h-2zM44 374h2v1h-2zM104 374h2v1h-2zM108 374h2v1h-2zM126 374h2v1h-2zM179 374h1v1h-1zM285 374h2v1h-2zM385 374h2v1h-2zM389 374h4v1h-4zM402 374h27v1h-27zM494 374h2v1h-2zM44 375h2v1h-2zM104 375h2v1h-2zM108 375h2v1h-2zM126 375h2v1h-2zM286 375h2v1h-2zM384 375h2v1h-2zM391 375h4v1h-4zM398 375h10v1h-10zM494 375h2v1h-2zM45 376h2v1h-2zM103 376h2v1h-2zM109 376h2v1h-2zM126 376h2v1h-2zM286 376h2v1h-2zM382 376h3v1h-3zM393 376h9v1h-9zM495 376h2v1h-2zM45 377h2v1h-2zM102 377h2v1h-2zM110 377h2v1h-2zM125 377h2v1h-2zM287 377h2v1h-2zM381 377h3v1h-3zM395 377h3v1h-3zM495 377h2v1h-2zM46 378h2v1h-2zM102 378h2v1h-2zM110 378h2v1h-2zM125 378h2v1h-2zM287 378h2v1h-2zM380 378h2v1h-2zM496 378h2v1h-2zM46 379h2v1h-2zM101 379h2v1h-2zM111 379h2v1h-2zM124 379h2v1h-2zM287 379h2v1h-2zM378 379h3v1h-3zM496 379h2v1h-2zM47 380h2v1h-2zM100 380h2v1h-2zM112 380h2v1h-2zM124 380h2v1h-2zM288 380h2v1h-2zM377 380h3v1h-3zM497 380h2v1h-2zM530 380h2v1h-2zM47 381h2v1h-2zM100 381h2v1h-2zM112 381h2v1h-2zM123 381h2v1h-2zM288 381h2v1h-2zM377 381h2v1h-2zM497 381h2v1h-2zM528 381h6v1h-6zM48 382h2v1h-2zM99 382h2v1h-2zM113 382h2v1h-2zM123 382h2v1h-2zM289 382h2v1h-2zM376 382h2v1h-2zM498 382h2v1h-2zM525 382h5v1h-5zM532 382h4v1h-4zM48 383h2v1h-2zM99 383h2v1h-2zM113 383h2v1h-2zM122 383h2v1h-2zM289 383h2v1h-2zM375 383h2v1h-2zM499 383h2v1h-2zM522 383h6v1h-6zM534 383h3v1h-3zM49 384h2v1h-2zM90 384h10v1h-10zM114 384h10v1h-10zM290 384h2v1h-2zM374 384h2v1h-2zM500 384h2v1h-2zM521 384h4v1h-4zM536 384h3v1h-3zM49 385h2v1h-2zM89 385h11v1h-11zM115 385h9v1h-9zM290 385h2v1h-2zM374 385h2v1h-2zM500 385h2v1h-2zM521 385h2v1h-2zM537 385h3v1h-3zM50 386h2v1h-2zM89 386h2v1h-2zM291 386h2v1h-2zM373 386h2v1h-2zM501 386h2v1h-2zM520 386h2v1h-2zM539 386h2v1h-2zM51 387h2v1h-2zM88 387h2v1h-2zM292 387h2v1h-2zM372 387h2v1h-2zM502 387h2v1h-2zM519 387h2v1h-2zM539 387h2v1h-2zM51 388h2v1h-2zM87 388h2v1h-2zM293 388h2v1h-2zM371 388h2v1h-2zM503 388h2v1h-2zM518 388h2v1h-2zM540 388h2v1h-2zM52 389h2v1h-2zM66 389h10v1h-10zM87 389h2v1h-2zM294 389h2v1h-2zM371 389h2v1h-2zM504 389h2v1h-2zM518 389h2v1h-2zM540 389h2v1h-2zM52 390h2v1h-2zM65 390h12v1h-12zM86 390h2v1h-2zM294 390h2v1h-2zM362 390h10v1h-10zM504 390h2v1h-2zM517 390h2v1h-2zM541 390h2v1h-2zM53 391h2v1h-2zM65 391h2v1h-2zM76 391h2v1h-2zM85 391h2v1h-2zM295 391h2v1h-2zM361 391h11v1h-11zM505 391h2v1h-2zM516 391h2v1h-2zM541 391h2v1h-2zM53 392h2v1h-2zM64 392h2v1h-2zM77 392h3v1h-3zM85 392h2v1h-2zM296 392h2v1h-2zM360 392h2v1h-2zM506 392h4v1h-4zM515 392h2v1h-2zM542 392h2v1h-2zM54 393h2v1h-2zM63 393h2v1h-2zM78 393h3v1h-3zM84 393h2v1h-2zM297 393h2v1h-2zM359 393h2v1h-2zM507 393h7v1h-7zM515 393h2v1h-2zM542 393h2v1h-2zM54 394h2v1h-2zM63 394h2v1h-2zM80 394h2v1h-2zM83 394h2v1h-2zM298 394h3v1h-3zM358 394h2v1h-2zM510 394h6v1h-6zM543 394h2v1h-2zM55 395h2v1h-2zM62 395h2v1h-2zM81 395h4v1h-4zM299 395h4v1h-4zM358 395h2v1h-2zM514 395h2v1h-2zM543 395h2v1h-2zM55 396h2v1h-2zM61 396h2v1h-2zM82 396h2v1h-2zM301 396h4v1h-4zM357 396h2v1h-2zM544 396h2v1h-2zM56 397h2v1h-2zM61 397h2v1h-2zM83 397h1v1h-1zM303 397h4v1h-4zM356 397h2v1h-2zM544 397h2v1h-2zM56 398h2v1h-2zM60 398h2v1h-2zM305 398h4v1h-4zM355 398h2v1h-2zM545 398h2v1h-2zM57 399h4v1h-4zM307 399h4v1h-4zM347 399h9v1h-9zM545 399h2v1h-2zM57 400h4v1h-4zM309 400h4v1h-4zM346 400h10v1h-10zM546 400h2v1h-2zM58 401h2v1h-2zM311 401h4v1h-4zM345 401h2v1h-2zM546 401h2v1h-2zM313 402h3v1h-3zM344 402h2v1h-2zM547 402h2v1h-2zM315 403h2v1h-2zM342 403h3v1h-3zM547 403h2v1h-2zM316 404h2v1h-2zM341 404h3v1h-3zM547 404h2v1h-2zM316 405h2v1h-2zM340 405h2v1h-2zM548 405h2v1h-2zM317 406h2v1h-2zM336 406h5v1h-5zM548 406h2v1h-2zM318 407h2v1h-2zM331 407h9v1h-9zM548 407h2v1h-2zM319 408h2v1h-2zM329 408h7v1h-7zM549 408h2v1h-2zM320 409h2v1h-2zM328 409h3v1h-3zM549 409h2v1h-2zM320 410h2v1h-2zM326 410h3v1h-3zM549 410h2v1h-2zM321 411h2v1h-2zM324 411h4v1h-4zM550 411h2v1h-2zM322 412h4v1h-4zM550 412h2v1h-2zM323 413h1v1h-1zM551 413h2v1h-2zM551 414h2v1h-2zM551 415h2v1h-2zM552 416h2v1h-2zM552 417h2v1h-2zM563 417h1v1h-1zM552 418h2v1h-2zM562 418h2v1h-2zM553 419h2v1h-2zM560 419h3v1h-3zM553 420h2v1h-2zM559 420h3v1h-3zM553 421h2v1h-2zM558 421h2v1h-2zM554 422h5v1h-5zM554 423h4v1h-4zM555 424h1v1h-1z" fill="#7CFC00"/>
<rect x="4" y="339" width="615" height="1" fill="#4682B4"/>
<rect x="4" y="385" width="615" height="1" fill="#4682B4"/>
<rect x="4" y="408" width="615" height="1" fill="#4682B4"/>
</g>
<g shape-rendering="crispEdges" fill="#000">
<rect x="2" y="2" width="618" height="1"/>
<rect x="2" y="2" width="1" height="319"/>
<rect x="619" y="2" width="1" height="319"/>
<rect x="2" y="320" width="618" height="1"/>
<rect x="2" y="322" width="618" height="1"/>
<rect x="2" y="322" width="1" height="108"/>
<rect x="619" y="322" width="1" height="108"/>
<rect x="2" y="429" width="618" height="1"/>
<rect x="620" y="428" width="1" height="1"/>
<rect x="620" y="20" width="2" height="1"/>
<rect x="620" y="53" width="2" height="1"/>
<rect x="620" y="86" width="2" height="1"/>
<rect x="620" y="119" width="2" height="1"/>
<rect x="620" y="152" width="2" height="1"/>
<rect x="620" y="185" width="2" height="1"/>
<rect x="620" y="218" width="2" height="1"/>
<rect x="620" y="251" width="2" height="1"/>
<rect x="620" y="284" width="2" height="1"/>
<rect x="620" y="317" width="2" height="1"/>
<rect x="620" y="362" width="2" height="1"/>
<rect x="620" y="324" width="1" height="1"/>
<rect x="3" y="430" width="1" height="3"/>
<rect x="67" y="430" width="1" height="3"/>
<rect x="131" y="430" width="1" height="3"/>
<rect x="195" y="430" width="1" height="3"/>
<rect x="259" y="430" width="1" height="3"/>
<rect x="323" y="430" width="1" height="3"/>
<rect x="387" y="430" width="1" height="3"/>
<rect x="451" y="430" width="1" height="3"/>
<rect x="515" y="430" width="1" height="3"/>
<rect x="6" y="9" width="7" height="1"/><rect x="7" y="10" width="5" height="1"/><rect x="8" y="11" width="3" height="1"/><rect x="9" y="12" width="1" height="1"/>
<rect x="621" y="288" width="33" height="11"/>
</g>
<g shape-rendering="crispEdges" fill="#4682B4">
<rect x="621" y="334" width="17" height="11"/>
<rect x="621" y="380" width="20" height="11"/>
<rect x="621" y="403" width="20" height="11"/>
</g>
<text x="18.2" y="14" textLength="51.5" lengthAdjust="spacingAndGlyphs">HSI,fs,Daily</text>
<text x="76" y="14" textLength="108.5" lengthAdjust="spacingAndGlyphs">15331 15466 15169 15384</text>
<text x="7.3" y="335" textLength="32.7" lengthAdjust="spacingAndGlyphs">CCI(27)</text>
<text x="44.7" y="335" textLength="40" lengthAdjust="spacingAndGlyphs">-237.5777</text>
<text x="625.5" y="24" textLength="24.2" lengthAdjust="spacingAndGlyphs">18406</text>
<text x="625.5" y="57" textLength="24.2" lengthAdjust="spacingAndGlyphs">18036</text>
<text x="625.5" y="90" textLength="24.2" lengthAdjust="spacingAndGlyphs">17676</text>
<text x="625.5" y="123" textLength="24.2" lengthAdjust="spacingAndGlyphs">17306</text>
<text x="625.5" y="156" textLength="24.2" lengthAdjust="spacingAndGlyphs">16946</text>
<text x="625.5" y="189" textLength="24.2" lengthAdjust="spacingAndGlyphs">16576</text>
<text x="625.5" y="222" textLength="24.2" lengthAdjust="spacingAndGlyphs">16206</text>
<text x="625.5" y="255" textLength="24.2" lengthAdjust="spacingAndGlyphs">15846</text>
<text x="625.5" y="288" textLength="24.2" lengthAdjust="spacingAndGlyphs">15476</text>
<text x="625.5" y="321" textLength="24.2" lengthAdjust="spacingAndGlyphs">15116</text>
<text x="625.5" y="297.1" textLength="24.2" lengthAdjust="spacingAndGlyphs" style="fill:#fff;stroke:#fff">15384</text>
<text x="623.6" y="333.2" textLength="40" lengthAdjust="spacingAndGlyphs">165.1026</text>
<text x="623.2" y="366" textLength="17.2" lengthAdjust="spacingAndGlyphs">0.00</text>
<text x="623" y="426.3" textLength="35.3" lengthAdjust="spacingAndGlyphs">-289.315</text>
<text x="623" y="343" textLength="13.8" lengthAdjust="spacingAndGlyphs" style="fill:#fff;stroke:#fff">100</text>
<text x="622.5" y="389" textLength="17.5" lengthAdjust="spacingAndGlyphs" style="fill:#fff;stroke:#fff">-100</text>
<text x="622.5" y="412" textLength="17.5" lengthAdjust="spacingAndGlyphs" style="fill:#fff;stroke:#fff">-200</text>
<text x="2.6" y="442.4" textLength="50" lengthAdjust="spacingAndGlyphs">11 Oct 2023</text>
<text x="66.4" y="442.4" textLength="50.3" lengthAdjust="spacingAndGlyphs">24 Oct 2023</text>
<text x="130.7" y="442.4" textLength="47.8" lengthAdjust="spacingAndGlyphs">2 Nov 2023</text>
<text x="194.3" y="442.4" textLength="53.6" lengthAdjust="spacingAndGlyphs">14 Nov 2023</text>
<text x="258.3" y="442.4" textLength="53.4" lengthAdjust="spacingAndGlyphs">24 Nov 2023</text>
<text x="322.7" y="442.4" textLength="45.6" lengthAdjust="spacingAndGlyphs">5 Dec 2023</text>
<text x="386.7" y="442.4" textLength="50.6" lengthAdjust="spacingAndGlyphs">15 Dec 2023</text>
<text x="450.7" y="442.4" textLength="51" lengthAdjust="spacingAndGlyphs">28 Dec 2023</text>
<text x="515" y="442.4" textLength="49" lengthAdjust="spacingAndGlyphs">10 Jan 2024</text>
</svg></body></html>
